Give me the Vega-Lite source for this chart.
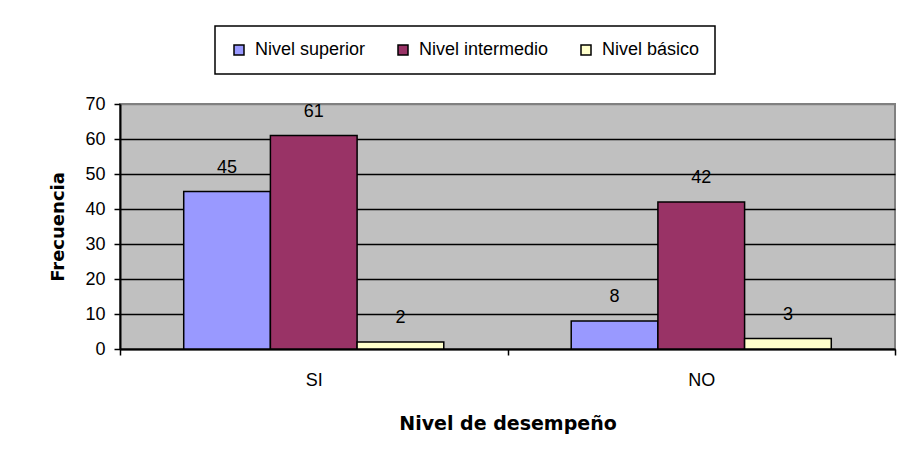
{
  "$schema": "https://vega.github.io/schema/vega-lite/v6.json",
  "width": 775,
  "height": 245,
  "autosize": {"type": "none"},
  "padding": {"left": 120, "top": 104, "right": 2, "bottom": 117},
  "background": "white",
  "config": {
    "font": "Liberation Sans",
    "view": {"fill": "#C0C0C0", "stroke": "#808080", "strokeWidth": 2}
  },
  "data": {
    "values": [
      {"desempeno": "SI", "nivel": "Nivel superior", "frecuencia": 45},
      {"desempeno": "SI", "nivel": "Nivel intermedio", "frecuencia": 61},
      {"desempeno": "SI", "nivel": "Nivel básico", "frecuencia": 2},
      {"desempeno": "NO", "nivel": "Nivel superior", "frecuencia": 8},
      {"desempeno": "NO", "nivel": "Nivel intermedio", "frecuencia": 42},
      {"desempeno": "NO", "nivel": "Nivel básico", "frecuencia": 3}
    ]
  },
  "encoding": {
    "x": {
      "field": "desempeno",
      "type": "nominal",
      "sort": ["SI", "NO"],
      "scale": {"paddingInner": 0, "paddingOuter": 0},
      "axis": {
        "title": "Nivel de desempeño",
        "titleFont": "DejaVu Sans",
        "titleFontSize": 19,
        "titleFontWeight": "bold",
        "titleColor": "black",
        "titlePadding": 25,
        "labelAngle": 0,
        "labelFontSize": 18,
        "labelColor": "black",
        "labelPadding": 16,
        "tickBand": "extent",
        "tickColor": "black",
        "tickSize": 6,
        "tickWidth": 1.5,
        "domainColor": "black",
        "domainWidth": 2
      }
    },
    "xOffset": {
      "field": "nivel",
      "type": "nominal",
      "sort": ["Nivel superior", "Nivel intermedio", "Nivel básico"],
      "scale": {"paddingInner": 0, "paddingOuter": 0.735}
    },
    "y": {
      "field": "frecuencia",
      "type": "quantitative",
      "scale": {"domain": [0, 70], "nice": false},
      "axis": {
        "title": "Frecuencia",
        "titleFont": "DejaVu Sans",
        "titleFontSize": 18,
        "titleFontWeight": "bold",
        "titleColor": "black",
        "titlePadding": 17,
        "values": [0, 10, 20, 30, 40, 50, 60, 70],
        "labelFontSize": 18,
        "labelColor": "black",
        "labelPadding": 9,
        "tickColor": "black",
        "tickSize": 6,
        "tickWidth": 1.5,
        "domainColor": "black",
        "domainWidth": 2,
        "grid": true,
        "gridColor": {"condition": {"test": "datum.value === 70", "value": "#808080"}, "value": "black"},
        "gridWidth": 1.5,
        "gridOpacity": 1
      }
    }
  },
  "layer": [
    {
      "mark": {"type": "bar", "stroke": "black", "strokeWidth": 1.5},
      "encoding": {
        "color": {
          "field": "nivel",
          "type": "nominal",
          "sort": ["Nivel superior", "Nivel intermedio", "Nivel básico"],
          "scale": {
            "domain": ["Nivel superior", "Nivel intermedio", "Nivel básico"],
            "range": ["#9999FF", "#993366", "#FFFFCC"]
          },
          "legend": {
            "title": null,
            "orient": "none",
            "legendX": 95,
            "legendY": -78,
            "direction": "horizontal",
            "padding": 15,
            "strokeColor": "black",
            "labelFont": "Liberation Sans",
            "labelFontSize": 18,
            "labelColor": "black",
            "labelOffset": 7,
            "columnPadding": 28,
            "symbolType": "square",
            "symbolSize": 100,
            "symbolStrokeColor": "black",
            "symbolStrokeWidth": 1.5,
            "symbolOpacity": 1,
            "encode": {"legend": {"update": {"strokeWidth": {"value": 1.5}}}}
          }
        }
      }
    },
    {
      "mark": {"type": "text", "baseline": "alphabetic", "dy": -19, "fontSize": 18, "color": "black"},
      "encoding": {
        "text": {"field": "frecuencia", "type": "quantitative"}
      }
    }
  ]
}
